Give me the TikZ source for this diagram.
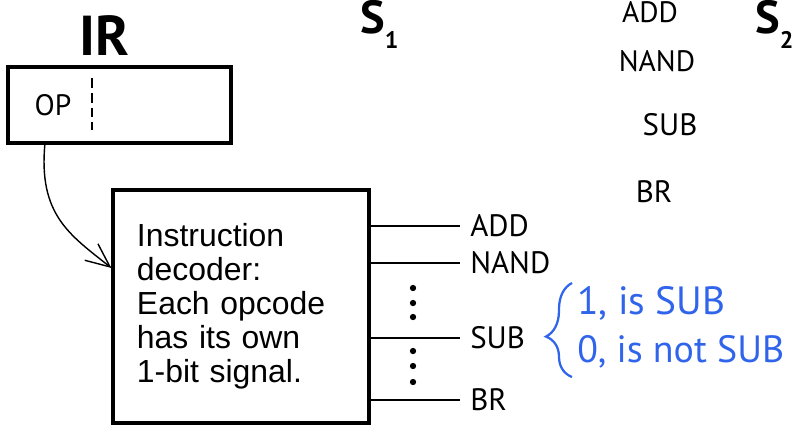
\documentclass[tikz,border=0pt]{standalone}
\usepackage{fontspec}
\setmainfont{Liberation Sans}
\newfontfamily\handfont{PT Sans}
\usetikzlibrary{arrows.meta,decorations.pathreplacing}

\definecolor{penblue}{RGB}{48,100,235}

\begin{document}
\begin{tikzpicture}[x=0.025cm, y=-0.025cm,
    box/.style={draw, rectangle, line width=2.2pt, inner sep=0pt},
    hand/.style={font=\handfont\fontsize{#1}{#1}\selectfont, inner sep=0pt},
    sig/.style={hand=22, anchor=west, inner xsep=0.25cm},
    blip/.style={circle, fill, inner sep=0pt, minimum size=4.5pt}]
    \useasboundingbox (0,0) rectangle (793,433);
    % Nodes
    \node[hand=40] (irname) at (104,36) {\bfseries IR};
    \node[box, minimum width=5.575cm, minimum height=1.9cm] (ir) at (119.5,105) {};
    \node[hand=21] (op) at (53,105) {OP};
    \coordinate (opout) at (45,143);
    \node[box, minimum width=6.4cm, minimum height=5.825cm, text width=5.2cm,
          inner xsep=0.6cm, align=left, font=\fontsize{22.7}{24.2}\selectfont]
          (dec) at (241,306.5) {Instruction\\decoder:\\Each opcode\\has its own\\1-bit signal.};
    \coordinate (opin) at (dec.west |- {0,268});
    \node[sig] (add) at (460,226) {ADD};
    \node[sig] (nand) at (460,263) {NAND};
    \node[sig] (sub) at (460,338) {SUB};
    \node[sig] (br) at (460,400) {BR};
    \foreach \y in {288,303,317,351,366,382}
        \node[blip] (dot\y) at (413,\y) {};
    \node[hand=28, text=penblue, anchor=west] (yes) at (577,303) {1, is SUB};
    \node[hand=27, text=penblue, anchor=west] (no) at (577,352) {0, is not SUB};
    % Right-hand list
    \node[hand=33, anchor=base west] (s1) at (360,34) {\bfseries S\raisebox{-10pt}{\fontsize{17}{17}\selectfont 1}};
    \node[hand=33, anchor=base west] (s2) at (755,34) {\bfseries S\raisebox{-10pt}{\fontsize{17}{17}\selectfont 2}};
    \node[hand=21] (lstadd) at (650,12) {ADD};
    \node[hand=21] (lstnand) at (657,61) {NAND};
    \node[hand=22] (lstsub) at (670,125) {SUB};
    \node[hand=22] (lstbr) at (654,192) {BR};
    % Edges
    \draw[line width=1.2pt, dash pattern=on 7pt off 3.5pt] (92,78) -- (92,130);
    \draw[line width=1pt, -{Straight Barb[length=17pt, width=15pt]}]
        (opout) .. controls (38,215) and (70,235) .. (opin);
    \draw[line width=1pt] (dec.east |- add.west) -- (add.west);
    \draw[line width=1pt] (dec.east |- nand.west) -- (nand.west);
    \draw[line width=1pt] (dec.east |- sub.west) -- (sub.west);
    \draw[line width=1pt] (dec.east |- br.west) -- (br.west);
    \draw[penblue, line width=1.6pt, decorate,
          decoration={brace, amplitude=0.65cm, aspect=0.43}] (572,377) -- (572,283);
\end{tikzpicture}
\end{document}
